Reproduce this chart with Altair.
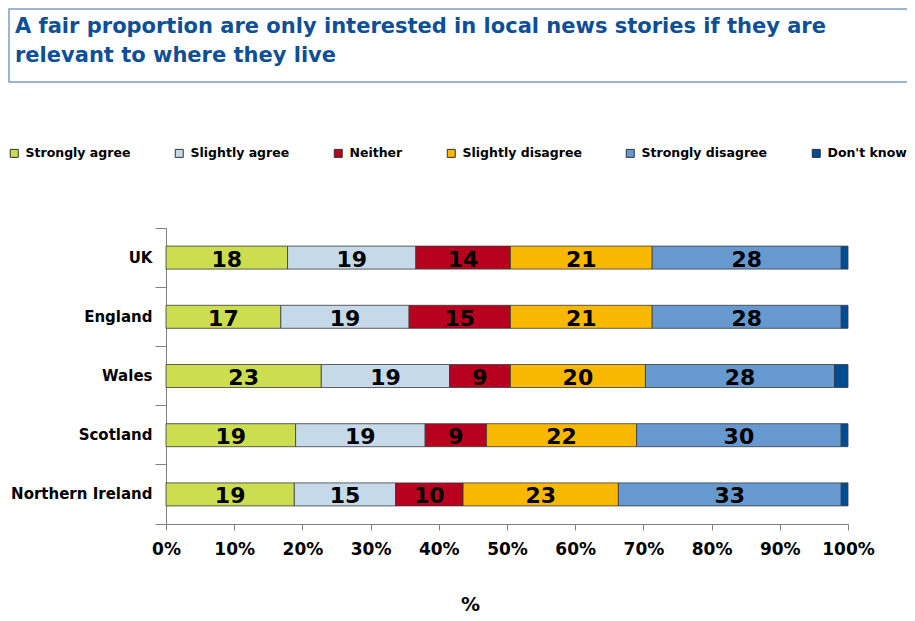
import altair as alt
import pandas as pd

countries = ["UK", "England", "Wales", "Scotland", "Northern Ireland"]
categories = ["Strongly agree", "Slightly agree", "Neither", "Slightly disagree",
              "Strongly disagree", "Don't know"]
strongly_agree = [18, 17, 23, 19, 19]
slightly_agree = [19, 19, 19, 19, 15]
neither = [14, 15, 9, 9, 10]
slightly_disagree = [21, 21, 20, 22, 23]
strongly_disagree = [28, 28, 28, 30, 33]
dont_know = [1, 1, 2, 1, 1]
colors = ["#CCDD50", "#C5D9E8", "#B8001F", "#F8B800", "#6699CF", "#004C93"]
x_ticks = [0, 0.1, 0.2, 0.3, 0.4, 0.5, 0.6, 0.7, 0.8, 0.9, 1.0]
title_text = ("A fair proportion are only interested in local news stories if they are\n"
              "relevant to where they live")

series = [strongly_agree, slightly_agree, neither, slightly_disagree,
          strongly_disagree, dont_know]
rows = []
for ci, (cat, vals) in enumerate(zip(categories, series)):
    for c, v in zip(countries, vals):
        rows.append({"country": c, "category": cat, "value": v, "order": ci})
df = pd.DataFrame(rows)

FONT = "DejaVu Sans"
GRAY = "#808080"

x_scale = alt.Scale(domain=[0, 1], nice=False)
y_scale = alt.Scale(domain=countries, paddingInner=0, paddingOuter=0)

bars = alt.Chart(df).mark_bar(size=23, stroke="#3a3a3a", strokeWidth=0.8).encode(
    x=alt.X("value:Q", stack="normalize", scale=x_scale,
            axis=alt.Axis(values=x_ticks, format=".0%", grid=False,
                          labelOverlap=False, labelFlush=False,
                          domainColor=GRAY, tickColor=GRAY, tickSize=6,
                          labelFont=FONT, labelFontSize=17, labelFontWeight="bold",
                          labelColor="black", labelPadding=11,
                          title="%", titleFont=FONT, titleFontSize=19,
                          titleFontWeight="bold", titleColor="black",
                          titleX=304, titleY=80, titleAlign="center",
                          titleBaseline="middle")),
    y=alt.Y("country:N", sort=countries, scale=y_scale,
            axis=alt.Axis(title=None, domainColor=GRAY, tickColor=GRAY, tickSize=11,
                          bandPosition=1, tickExtra=True,
                          labelFont=FONT, labelFontSize=15, labelFontWeight="bold",
                          labelColor="black", labelPadding=3)),
    color=alt.Color("category:N", sort=categories,
                    scale=alt.Scale(domain=categories, range=colors),
                    legend=alt.Legend(title=None, orient="none", legendX=-158, legendY=-81,
                                      direction="horizontal", columns=6,
                                      symbolType="square", symbolSize=64,
                                      symbolStrokeColor="#333333", symbolStrokeWidth=1,
                                      labelFont=FONT, labelFontSize=12.5,
                                      labelFontWeight="bold", labelColor="black",
                                      labelOffset=5, columnPadding=42, padding=0)),
    order=alt.Order("order:Q"),
)

labels = alt.Chart(df).transform_joinaggregate(
    total="sum(value)", groupby=["country"]
).transform_window(
    cum="sum(value)", sort=[alt.SortField("order")], groupby=["country"]
).transform_calculate(
    mid="(datum.cum - datum.value / 2) / datum.total"
).transform_filter(
    alt.datum.category != "Don't know"
).mark_text(font=FONT, fontSize=22, fontWeight="bold", color="black", dy=2).encode(
    x=alt.X("mid:Q", scale=x_scale),
    y=alt.Y("country:N", sort=countries, scale=y_scale),
    text=alt.Text("value:Q"),
)

box = alt.Chart(alt.Data(values=[{"a": 1}])).mark_rect(
    fill=None, stroke="#7F9DC0", strokeWidth=1.5
).encode(
    x=alt.value(-157), x2=alt.value(760), y=alt.value(-219), y2=alt.value(-146)
)

title = alt.Chart(alt.Data(values=[{"t": title_text}])).mark_text(
    font=FONT, fontSize=21, fontWeight="bold", color="#0F4F96",
    align="left", baseline="alphabetic", lineBreak="\n", lineHeight=29
).encode(
    x=alt.value(-151), y=alt.value(-195), text="t:N"
)

chart = alt.layer(box, title, bars, labels).properties(
    width=682, height=296,
    autosize=alt.AutoSizeParams(type="none"),
    padding={"left": 158, "top": 220, "right": 59, "bottom": 89},
).configure_view(stroke=None)

chart.save("out.html", embed_options={"renderer": "svg", "actions": False})
